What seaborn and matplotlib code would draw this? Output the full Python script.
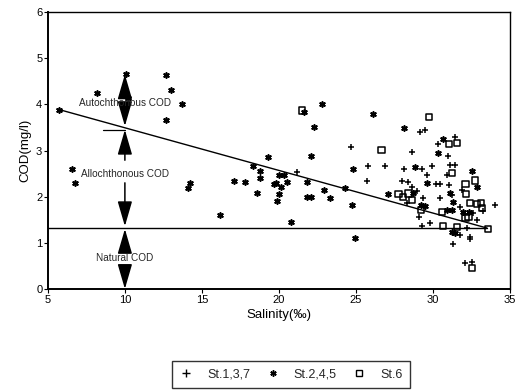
import numpy as np
import pandas as pd
import matplotlib
matplotlib.use("Agg")
import matplotlib.pyplot as plt
import seaborn as sns
from matplotlib.lines import Line2D

# ---- data ----
st137_x = [24.7, 25.7, 21.2, 25.8, 26.9, 28.1, 29.25, 29.95, 29.6, 30.9, 31.1, 31.45, 28.0, 28.4,
           28.65, 30.2, 30.47, 31.05, 28.98, 29.36, 28.33, 29.1, 30.47, 31.25, 31.9, 31.76, 33.25,
           34.0, 32.6, 32.87, 29.8, 29.3, 32.2, 31.76, 32.4, 32.4, 31.3, 32.1, 32.55, 29.17, 29.5,
           31.4, 30.35, 28.65, 31.0]
st137_y = [3.07, 2.35, 2.53, 2.66, 2.66, 2.61, 2.59, 2.66, 2.48, 2.48, 2.68, 2.68, 2.33, 2.31,
           2.22, 2.27, 2.27, 2.25, 2.12, 1.97, 1.86, 1.56, 1.97, 2.03, 2.14, 1.77, 1.68,
           1.81, 1.64, 1.49, 1.42, 1.36, 1.32, 1.17, 1.12, 1.08, 0.97, 0.56, 0.58, 3.41, 3.45,
           3.30, 3.15, 2.96, 2.89]

st245_x = [5.7, 8.2, 10.1, 10.2, 12.7, 13.0, 12.7, 13.7, 6.6, 6.75, 14.2, 14.1, 16.15, 17.05,
           17.8, 18.3, 18.6, 18.74, 18.8, 19.26, 22.05, 21.6, 22.8, 22.3, 24.8, 19.97, 20.3, 19.65,
           20.1, 20.55, 21.85, 19.97, 19.9, 21.8, 22.1, 22.9, 23.34, 24.3, 24.77, 20.75, 24.96,
           26.07, 28.1, 30.66, 30.35, 28.8, 32.55, 29.6, 32.86, 27.1, 28.7, 29.2, 29.5, 31.1,
           31.3, 31.96, 32.35, 30.9, 31.25, 31.25, 31.45, 19.8]
st245_y = [3.87, 4.24, 4.66, 4.14, 4.64, 4.32, 3.67, 4.0, 2.59, 2.29, 2.29, 2.18, 1.61, 2.35,
           2.31, 2.66, 2.07, 2.55, 2.40, 2.85, 2.88, 3.84, 4.0, 3.52, 2.59, 2.48, 2.48, 2.27,
           2.20, 2.31, 2.31, 2.05, 1.90, 2.0, 1.99, 2.14, 1.97, 2.18, 1.81, 1.45, 1.10,
           3.80, 3.48, 3.24, 2.94, 2.64, 2.55, 2.29, 2.20, 2.05, 2.07, 1.81, 1.79, 2.07,
           1.88, 1.66, 1.66, 1.71, 1.71, 1.23, 1.21, 2.29]

st6_x = [21.5, 29.75, 31.05, 31.57, 26.65, 31.25, 32.7, 32.1, 27.75, 28.07, 28.4, 28.65, 29.2,
         32.15, 32.4, 32.87, 33.1, 33.2, 30.6, 32.1, 32.3, 30.66, 31.57, 33.57, 32.55]
st6_y = [3.87, 3.72, 3.15, 3.17, 3.02, 2.51, 2.35, 2.27, 2.05, 1.99, 2.07, 1.92, 1.71,
         2.05, 1.86, 1.84, 1.86, 1.75, 1.66, 1.53, 1.56, 1.36, 1.34, 1.30, 0.45]

labels = ["St.1,3,7", "St.2,4,5", "St.6"]

# fitted line and natural-COD level
trend_x = [5.6, 33.5]
trend_y = [3.90, 1.32]
natural_x = [5.0, 33.5]
natural_y = [1.32, 1.32]

xticks = [5, 10, 15, 20, 25, 30, 35]
yticks = [0, 1, 2, 3, 4, 5, 6]

# ---- plot ----
sns.set_theme(style="white")
plt.rcParams["font.family"] = ["Liberation Sans", "DejaVu Sans"]

fig = plt.figure(figsize=(5.2, 3.91), dpi=100)
ax = fig.add_axes([0.092, 0.261, 0.889, 0.708])

star = (6, 2, 0)
df1 = pd.DataFrame({"x": st137_x, "y": st137_y})
df2 = pd.DataFrame({"x": st245_x, "y": st245_y})
df3 = pd.DataFrame({"x": st6_x, "y": st6_y})
sns.scatterplot(data=df1, x="x", y="y", marker="+", s=24, color="black", linewidth=1.1, ax=ax)
sns.scatterplot(data=df2, x="x", y="y", marker=star, s=14, color="black", linewidth=1.2, ax=ax)
sns.scatterplot(data=df3, x="x", y="y", marker="s", s=20, facecolor="none", edgecolor="black",
                linewidth=1.1, ax=ax)

sns.lineplot(x=trend_x, y=trend_y, color="black", linewidth=1.0, ax=ax)
sns.lineplot(x=natural_x, y=natural_y, color="black", linewidth=1.0, ax=ax)

ax.set_xlim(5, 35)
ax.set_ylim(0, 6)
ax.set_xticks(xticks)
ax.set_yticks(yticks)
ax.tick_params(axis="both", direction="out", length=3, width=0.8, labelsize=8, pad=1,
               colors="black", bottom=True, left=True)
for s in ax.spines.values():
    s.set_color("black")
    s.set_linewidth(1.0)
ax.spines["left"].set_linewidth(1.4)
ax.spines["bottom"].set_linewidth(1.4)
ax.set_xlabel("Salinity(‰)", fontsize=9.5, labelpad=3, color="black")
ax.set_ylabel("COD(mg/l)", fontsize=9.5, labelpad=3, color="black")

# annotations
ap = dict(arrowstyle="-|>,head_length=0.55,head_width=0.16", mutation_scale=28,
          color="black", lw=1.1, shrinkA=0, shrinkB=0)
arrows = [((10, 4.65), (10, 4.25)), ((10, 3.53), (10, 3.93)),
          ((10, 3.45), (10, 2.79)), ((10, 1.36), (10, 2.30)),
          ((10, 1.30), (10, 0.90)), ((10, 0.0), (10, 0.47))]
for tip, tail in arrows:
    ax.annotate("", xy=tip, xytext=tail, arrowprops=ap)
ax.plot([8.6, 10.0], [3.45, 3.45], color="black", lw=0.9)
ax.text(10, 4.03, "Autochthonous COD", ha="center", va="center", fontsize=7.2)
ax.text(10, 2.50, "Allochthonous COD", ha="center", va="center", fontsize=7.2)
ax.text(10, 0.67, "Natural COD", ha="center", va="center", fontsize=7.2)

handles = [
    Line2D([], [], marker="+", color="black", ls="none", markersize=5.5, mew=1.0),
    Line2D([], [], marker=star, color="black", ls="none", markersize=4.5, mew=1.1),
    Line2D([], [], marker="s", mfc="none", mec="black", ls="none", markersize=5, mew=1.0),
]
leg = fig.legend(handles, labels, ncol=3, loc="upper center", bbox_to_anchor=(0.56, 0.092),
                 frameon=True, fontsize=9, fancybox=False, edgecolor="black", borderpad=0.6,
                 handletextpad=1.2, columnspacing=1.3, handlelength=1.0)
leg.get_frame().set_linewidth(1.0)

fig.savefig("out.png", dpi=100)
